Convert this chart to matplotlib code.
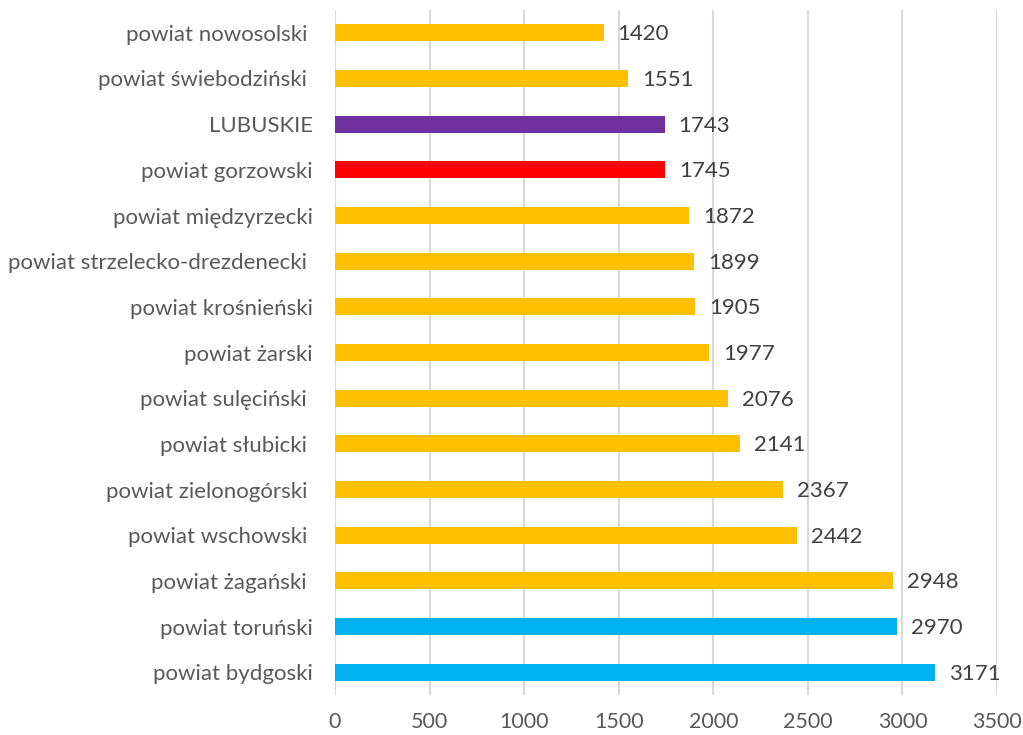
import matplotlib.pyplot as plt

# powiaty sorted from top to bottom as shown
labels = ["powiat nowosolski ", "powiat świebodziński ", "LUBUSKIE", "powiat gorzowski",
          "powiat międzyrzecki", "powiat strzelecko-drezdenecki ", "powiat krośnieński",
          "powiat żarski", "powiat sulęciński ", "powiat słubicki ", "powiat zielonogórski ",
          "powiat wschowski ", "powiat żagański ", "powiat toruński", "powiat bydgoski"]
values = [1420, 1551, 1743, 1745, 1872, 1899, 1905, 1977, 2076, 2141, 2367, 2442, 2948, 2970, 3171]
colors = ["#FFC000", "#FFC000", "#7030A0", "#FF0000", "#FFC000", "#FFC000", "#FFC000",
          "#FFC000", "#FFC000", "#FFC000", "#FFC000", "#FFC000", "#FFC000", "#00B0F0", "#00B0F0"]
xticks = [0, 500, 1000, 1500, 2000, 2500, 3000, 3500]

plt.rcParams['font.family'] = ['Lato', 'DejaVu Sans']
txt = "#595959"

fig = plt.figure(figsize=(10.23, 7.35), dpi=100)
ax = fig.add_axes([0.3275, 0.0544, 0.6471, 0.932])

pos = list(range(len(values)))
ax.barh(pos, values, height=0.37, color=colors, zorder=3)
for p, v in zip(pos, values):
    ax.annotate(str(v), (v, p), xytext=(10, -1), textcoords="offset points",
                va="center", ha="left", fontsize=16, color="#404040")

ax.set_ylim(len(values) - 0.5, -0.5)
ax.set_xlim(0, 3500)
ax.set_xticks(xticks)
ax.set_yticks(pos)
ax.set_yticklabels(labels)
ax.tick_params(axis="y", length=0, pad=16, labelsize=16, labelcolor=txt)
ax.tick_params(axis="x", length=0, pad=12, labelsize=15.5, labelcolor=txt)
ax.grid(axis="x", color="#D9D9D9", linewidth=1.5, zorder=0)
for s in ax.spines.values():
    s.set_visible(False)

fig.savefig("out.png", dpi=100)
